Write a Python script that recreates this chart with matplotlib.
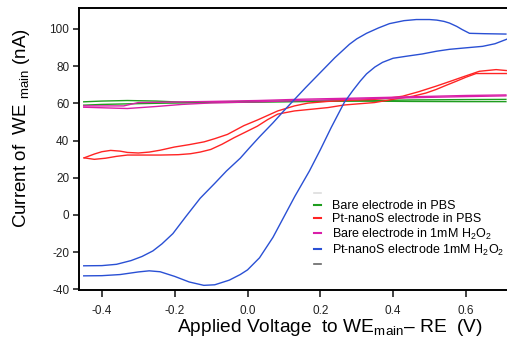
import numpy as np
import matplotlib
matplotlib.use("Agg")
import matplotlib.pyplot as plt
from matplotlib.lines import Line2D

plt.rcParams['font.family'] = ['Liberation Sans', 'DejaVu Sans']
plt.rcParams['mathtext.fontset'] = 'custom'
plt.rcParams['mathtext.rm'] = 'Liberation Sans'
plt.rcParams['mathtext.it'] = 'Liberation Sans:italic'
plt.rcParams['axes.unicode_minus'] = False

# ---- data (V in volts, I in nA) ----
# bare electrode in PBS (green), two sweeps
green_v = [-0.45, -0.40, -0.33, -0.25, -0.18, -0.10, 0.03, 0.15, 0.30, 0.45, 0.60, 0.71]
green_a = [60.8, 61.2, 61.5, 61.2, 60.6, 60.6, 61.1, 61.3, 61.2, 61.0, 60.9, 60.9]
green_b = [59.0, 59.4, 59.7, 60.0, 60.2, 60.4, 60.6, 60.9, 61.3, 61.8, 62.0, 62.1]

# Pt-nanoS electrode in PBS (red)
red_up_v = [-0.449, -0.42, -0.40, -0.376, -0.35, -0.33, -0.30, -0.27, -0.24, -0.201,
            -0.16, -0.119, -0.09, -0.055, -0.01, 0.027, 0.083, 0.129, 0.166, 0.22,
            0.28, 0.34, 0.38, 0.426, 0.47, 0.518, 0.56, 0.592, 0.637, 0.683, 0.711]
red_up_i = [30.7, 32.8, 34.0, 34.7, 34.3, 33.6, 33.3, 33.8, 34.8, 36.5,
            37.8, 39.3, 41.0, 43.3, 48.0, 51.0, 55.9, 58.6, 60.1, 61.0,
            61.6, 62.0, 62.6, 63.8, 66.2, 69.2, 72.0, 74.2, 77.2, 78.1, 77.6]
red_lo_v = [-0.449, -0.421, -0.39, -0.36, -0.33, -0.28, -0.239, -0.19, -0.157, -0.13,
            -0.101, -0.07, -0.037, -0.008, 0.027, 0.055, 0.083, 0.129, 0.18, 0.221,
            0.266, 0.31, 0.349, 0.408, 0.454, 0.49, 0.518, 0.545, 0.573, 0.60, 0.628, 0.711]
red_lo_i = [30.7, 29.9, 30.5, 31.5, 32.2, 32.2, 32.2, 32.4, 32.9, 33.8,
            35.2, 38.0, 41.5, 44.3, 47.7, 51.2, 54.2, 55.9, 56.9, 57.7,
            59.1, 59.8, 60.4, 62.4, 63.8, 65.5, 67.4, 69.6, 71.8, 74.0, 76.0, 76.0]

# bare electrode in 1mM H2O2 (magenta)
mag_a_v = [-0.45, -0.40, -0.33, -0.25, -0.18, -0.10, 0.03, 0.15, 0.30, 0.45, 0.60, 0.71]
mag_a_i = [57.9, 57.6, 57.2, 58.3, 59.4, 60.2, 60.8, 61.5, 62.3, 63.0, 63.6, 64.0]
mag_b_v = [-0.45, -0.34, -0.30, -0.20, -0.10, 0.03, 0.15, 0.30, 0.45, 0.60, 0.71]
mag_b_i = [58.6, 58.6, 60.4, 60.7, 61.0, 61.5, 62.2, 62.8, 63.5, 64.2, 64.5]

# Pt-nanoS electrode in 1mM H2O2 (blue)
blue_up_v = [-0.45, -0.40, -0.36, -0.32, -0.29, -0.26, -0.235, -0.205, -0.17, -0.13,
             -0.09, -0.058, -0.02, 0.005, 0.033, 0.07, 0.10, 0.124, 0.16, 0.20,
             0.24, 0.265, 0.28, 0.30, 0.327, 0.36, 0.39, 0.43, 0.464, 0.50, 0.52,
             0.54, 0.555, 0.575, 0.59, 0.61, 0.65, 0.71]
blue_up_i = [-27.3, -27.2, -26.5, -24.5, -22.3, -19.3, -15.5, -10.0, -1.0, 9.0,
             17.0, 23.6, 30.5, 36.0, 42.0, 49.5, 56.0, 61.0, 68.5, 76.5,
             84.5, 89.0, 91.7, 94.6, 97.6, 100.5, 102.8, 104.4, 105.0, 105.0, 104.7,
             104.0, 103.1, 101.3, 99.6, 97.6, 97.4, 97.2]
blue_lo_v = [-0.45, -0.40, -0.35, -0.30, -0.27, -0.24, -0.20, -0.16, -0.12, -0.09,
             -0.05, -0.02, 0.0, 0.033, 0.07, 0.10, 0.13, 0.17, 0.20, 0.23, 0.266,
             0.29, 0.31, 0.327, 0.35, 0.371, 0.40, 0.437, 0.48, 0.52, 0.555, 0.60,
             0.646, 0.68, 0.712]
blue_lo_i = [-32.7, -32.6, -32.0, -30.6, -30.0, -30.5, -33.0, -36.0, -37.8, -37.5,
             -35.0, -32.0, -29.5, -23.0, -12.0, -1.0, 10.0, 23.6, 35.0, 47.0, 60.5,
             67.0, 72.0, 75.8, 79.5, 82.0, 84.2, 85.3, 86.5, 88.0, 89.0, 89.8,
             90.6, 92.0, 94.4]

labels = [' ', 'Bare electrode in PBS', 'Pt-nanoS electrode in PBS',
          'Bare electrode in 1mM H$_2$O$_2$', 'Pt-nanoS electrode 1mM H$_2$O$_2$', ' ']

c_green = '#1f9e1f'
c_red = '#ff2424'
c_mag = '#d91fa8'
c_blue = '#2a50d4'

fig = plt.figure(figsize=(5.07, 3.39), dpi=100)
ax = fig.add_axes([79 / 507, 1 - 290 / 339, 1 - 79 / 507, 282 / 339])

lw = 1.0
ax.plot(green_v, green_a, color=c_green, lw=lw)
ax.plot(green_v, green_b, color=c_green, lw=lw)
ax.plot(red_up_v, red_up_i, color=c_red, lw=lw)
ax.plot(red_lo_v, red_lo_i, color=c_red, lw=lw)
ax.plot(mag_a_v, mag_a_i, color=c_mag, lw=lw)
ax.plot(mag_b_v, mag_b_i, color=c_mag, lw=lw)
ax.plot(blue_up_v, blue_up_i, color=c_blue, lw=lw)
ax.plot(blue_lo_v, blue_lo_i, color=c_blue, lw=lw)

ax.set_xlim(-0.463, 0.713)
ax.set_ylim(-40.3, 111.2)
ax.set_xticks([-0.4, -0.2, 0.0, 0.2, 0.4, 0.6])
ax.set_xticklabels(['-0.4', '-0.2', '0.0', '0.2', '0.4', '0.6'])
ax.set_yticks([-40, -20, 0, 20, 40, 60, 80, 100])

for s in ['left', 'bottom', 'top']:
    ax.spines[s].set_linewidth(1.4)
ax.spines['right'].set_visible(False)
ax.tick_params(axis='both', direction='out', width=1.2, labelsize=8.5, colors='#222222')
ax.tick_params(axis='y', length=4.5, pad=2.5)
ax.tick_params(axis='x', length=5, pad=5.5)

handles = [Line2D([], [], color='#dddddd', lw=1.2),
           Line2D([], [], color=c_green, lw=1.5),
           Line2D([], [], color=c_red, lw=1.5),
           Line2D([], [], color=c_mag, lw=1.5),
           Line2D([], [], color=c_blue, lw=1.5),
           Line2D([], [], color='#666666', lw=1.2)]
leg = ax.legend(handles, labels, loc='upper left', bbox_to_anchor=(314 / 507, 1 - 189 / 339),
                bbox_transform=fig.transFigure, frameon=False, fontsize=9,
                handlelength=0.55, handletextpad=0.85, labelspacing=0.1, borderpad=0,
                borderaxespad=0)
leg.get_texts()[0].set_fontsize(3)
leg.get_texts()[-1].set_fontsize(3)

fig.text(330 / 507, 1 - 327 / 339, 'Applied Voltage  to WE$_{\\mathrm{main}}$\u2013 RE  (V)',
         ha='center', va='center', fontsize=13.8)
fig.text(22 / 507, 1 - 128 / 339, 'Current of  WE $_{\\mathrm{main}}$ (nA)',
         ha='center', va='center', rotation=90, fontsize=13.5)

fig.savefig('out.png', dpi=100)
